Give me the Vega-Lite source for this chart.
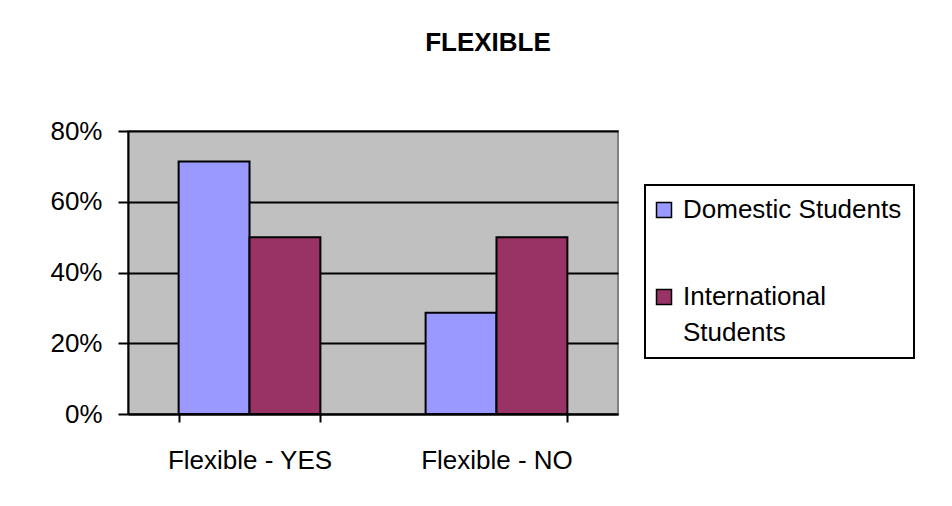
{
  "$schema": "https://vega.github.io/schema/vega-lite/v6.json",
  "width": 490,
  "height": 283,
  "autosize": {"type": "none"},
  "padding": {"left": 128, "top": 131, "right": 334, "bottom": 92},
  "background": "white",
  "title": {
    "text": "FLEXIBLE",
    "font": "Liberation Sans",
    "fontSize": 26,
    "fontWeight": "bold",
    "color": "black",
    "anchor": "middle",
    "frame": "group",
    "dx": 115,
    "offset": 62
  },
  "data": {
    "values": [
      {"category": "Flexible - YES", "group": "Domestic Students", "value": 0.714},
      {"category": "Flexible - YES", "group": "International Students", "value": 0.5},
      {"category": "Flexible - NO", "group": "Domestic Students", "value": 0.286},
      {"category": "Flexible - NO", "group": "International Students", "value": 0.5}
    ]
  },
  "mark": {"type": "bar", "stroke": "black", "strokeWidth": 2, "opacity": 1},
  "encoding": {
    "x": {
      "field": "category",
      "type": "nominal",
      "sort": ["Flexible - YES", "Flexible - NO"],
      "scale": {"paddingInner": 0.426, "paddingOuter": 0.205},
      "axis": {
        "title": null,
        "labelAngle": 0,
        "tickBand": "extent",
        "domainColor": "black",
        "domainWidth": 2,
        "tickColor": "black",
        "tickWidth": 2,
        "tickSize": 8,
        "labelFont": "Liberation Sans",
        "labelFontSize": 26,
        "labelColor": "black",
        "labelPadding": 25
      }
    },
    "xOffset": {
      "field": "group",
      "type": "nominal",
      "sort": ["Domestic Students", "International Students"],
      "scale": {"paddingInner": 0, "paddingOuter": 0}
    },
    "y": {
      "field": "value",
      "type": "quantitative",
      "scale": {"domain": [0, 0.8], "nice": false},
      "axis": {
        "title": null,
        "format": "%",
        "values": [0, 0.2, 0.4, 0.6, 0.8],
        "grid": true,
        "gridColor": "black",
        "gridWidth": 2,
        "gridOpacity": 1,
        "domainColor": "black",
        "domainWidth": 2,
        "tickColor": "black",
        "tickWidth": 2,
        "tickSize": 10,
        "labelPadding": 16,
        "labelFont": "Liberation Sans",
        "labelFontSize": 26,
        "labelColor": "black"
      }
    },
    "color": {
      "field": "group",
      "type": "nominal",
      "scale": {
        "domain": ["Domestic Students", "International Students"],
        "range": ["#9999FF", "#993366"]
      },
      "legend": {
        "title": null,
        "orient": "none",
        "legendX": 517,
        "legendY": 54,
        "strokeColor": "black",
        "fillColor": "white",
        "padding": 12,
        "symbolType": "square",
        "symbolSize": 225,
        "symbolStrokeColor": "black",
        "symbolStrokeWidth": 1.5,
        "symbolOpacity": 1,
        "symbolOffset": -6,
        "labelFont": "Liberation Sans",
        "labelFontSize": 26,
        "labelColor": "black",
        "labelOffset": 6,
        "labelLimit": 600,
        "rowPadding": 61,
        "labelExpr": "datum.label == 'International Students' ? ['International', 'Students'] : datum.label",
        "encode": {
          "labels": {"update": {"lineHeight": {"value": 36}}},
          "legend": {"update": {"strokeWidth": {"value": 2}}}
        }
      }
    }
  },
  "config": {
    "view": {"fill": "#C0C0C0", "stroke": "#808080", "strokeWidth": 2}
  }
}
